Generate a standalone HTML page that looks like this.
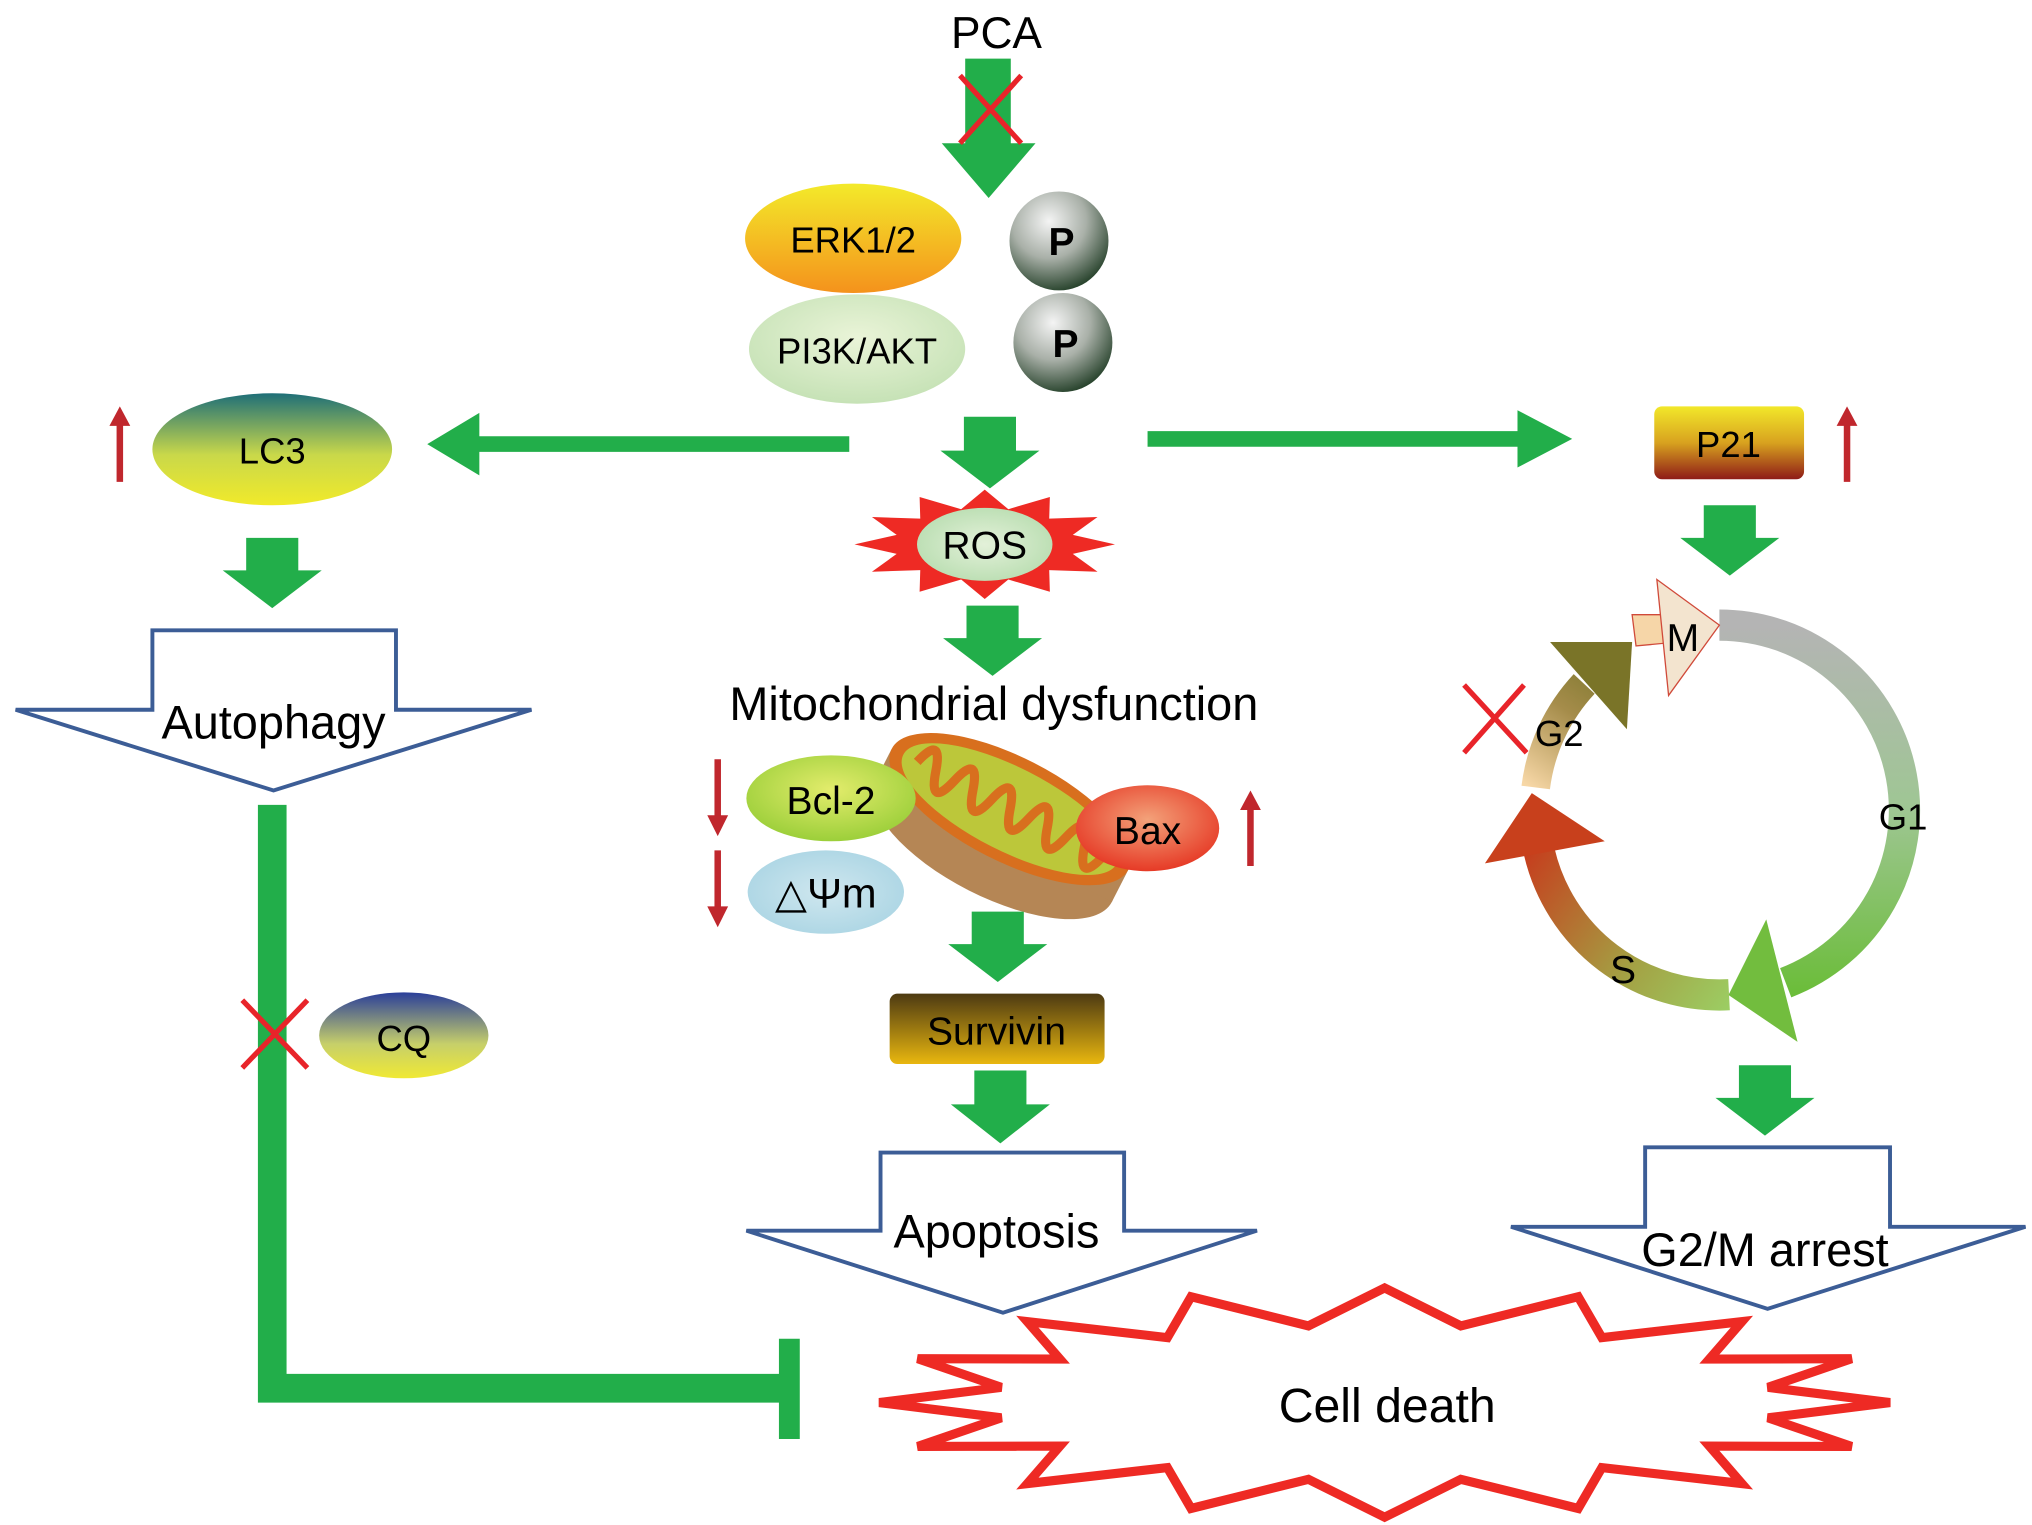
<!DOCTYPE html>
<html><head><meta charset="utf-8"><style>
html,body{margin:0;padding:0;background:#fff;}
svg{display:block;}
text{font-family:"Liberation Sans",sans-serif;}
.n{font-family:"Liberation Sans Narrow","Liberation Sans",sans-serif;}
</style></head><body>
<svg width="2032" height="1525" viewBox="0 0 1560 1171" preserveAspectRatio="none" xmlns="http://www.w3.org/2000/svg">
<defs>
<linearGradient id="erk" x1="0" y1="0" x2="0" y2="1"><stop offset="0" stop-color="#f3ea2a"/><stop offset="1" stop-color="#f4921c"/></linearGradient>
<radialGradient id="pi3k" cx="0.5" cy="0.4" r="0.6"><stop offset="0" stop-color="#eaf4d8"/><stop offset="1" stop-color="#c6e2b6"/></radialGradient>
<radialGradient id="pb" cx="0.4" cy="0.3" r="0.75"><stop offset="0" stop-color="#f4f4f4"/><stop offset="0.5" stop-color="#a9b0a8"/><stop offset="1" stop-color="#1d3a22"/></radialGradient>
<linearGradient id="lc3" x1="0" y1="0" x2="0" y2="1"><stop offset="0" stop-color="#1f6f78"/><stop offset="0.55" stop-color="#c9d84a"/><stop offset="1" stop-color="#f1ea2a"/></linearGradient>
<linearGradient id="p21" x1="0" y1="0" x2="0" y2="1"><stop offset="0" stop-color="#f2e82a"/><stop offset="0.5" stop-color="#d8a21f"/><stop offset="1" stop-color="#8e1b17"/></linearGradient>
<linearGradient id="surv" x1="0" y1="0" x2="0" y2="1"><stop offset="0" stop-color="#4d3a12"/><stop offset="1" stop-color="#e9b70f"/></linearGradient>
<linearGradient id="cq" x1="0" y1="0" x2="0" y2="1"><stop offset="0" stop-color="#2b3f9a"/><stop offset="0.6" stop-color="#c6cf6a"/><stop offset="1" stop-color="#f0e934"/></linearGradient>
<radialGradient id="bcl" cx="0.5" cy="0.4" r="0.6"><stop offset="0" stop-color="#e3ec6c"/><stop offset="1" stop-color="#9ccf3a"/></radialGradient>
<radialGradient id="psi" cx="0.5" cy="0.5" r="0.6"><stop offset="0" stop-color="#cfe7ef"/><stop offset="1" stop-color="#a9d4e3"/></radialGradient>
<radialGradient id="bax" cx="0.5" cy="0.4" r="0.6"><stop offset="0" stop-color="#f3a27a"/><stop offset="1" stop-color="#e63a26"/></radialGradient>
<radialGradient id="ros" cx="0.5" cy="0.5" r="0.6"><stop offset="0" stop-color="#e3f1d9"/><stop offset="1" stop-color="#b6dcae"/></radialGradient>
<linearGradient id="g1" gradientUnits="userSpaceOnUse" x1="0" y1="480" x2="0" y2="760"><stop offset="0" stop-color="#b4b4b4"/><stop offset="0.5" stop-color="#9fc694"/><stop offset="1" stop-color="#6cbd3b"/></linearGradient>
<linearGradient id="sg" gradientUnits="userSpaceOnUse" x1="1170" y1="650" x2="1330" y2="770"><stop offset="0" stop-color="#c73a1c"/><stop offset="0.6" stop-color="#a4a043"/><stop offset="1" stop-color="#9ccd63"/></linearGradient>
<linearGradient id="g2" gradientUnits="userSpaceOnUse" x1="1175" y1="605" x2="1250" y2="500"><stop offset="0" stop-color="#f7d7a6"/><stop offset="0.5" stop-color="#a58c4a"/><stop offset="1" stop-color="#6f7024"/></linearGradient>
</defs>

<!-- PCA -->
<text x="765" y="37" font-size="34" text-anchor="middle">PCA</text>
<polygon points="741,45 776,45 776,110 795,110 759,152 723,110 741,110" fill="#22ae4a"/>
<path d="M737,58 L784,110 M784,58 L737,110" stroke="#e8242a" stroke-width="4"/>

<!-- ERK / PI3K -->
<ellipse cx="655" cy="183" rx="83" ry="42" fill="url(#erk)"/>
<text x="655" y="194" font-size="28" text-anchor="middle" class="n">ERK1/2</text>
<circle cx="813" cy="185" r="38" fill="url(#pb)"/>
<text x="815" y="196" font-size="30" font-weight="bold" text-anchor="middle">P</text>
<ellipse cx="658" cy="268" rx="83" ry="42" fill="url(#pi3k)"/>
<text x="658" y="279" font-size="28" text-anchor="middle" class="n">PI3K/AKT</text>
<circle cx="816" cy="263" r="38" fill="url(#pb)"/>
<text x="818" y="274" font-size="30" font-weight="bold" text-anchor="middle">P</text>

<!-- central arrows -->
<polygon points="740,320 780,320 780,346 798,346 760,375 722,346 740,346" fill="#22ae4a"/>
<polygon points="652,335 368,335 368,317 328,341 368,365 368,347 652,347" fill="#22ae4a"/>
<polygon points="881,331 1165,331 1165,315 1207,337 1165,359 1165,343 881,343" fill="#22ae4a"/>

<!-- LC3 -->
<ellipse cx="209" cy="345" rx="92" ry="43" fill="url(#lc3)"/>
<text x="209" y="356" font-size="28" text-anchor="middle" class="n">LC3</text>
<line x1="92" y1="370" x2="92" y2="325" stroke="#c0272d" stroke-width="5"/>
<polygon points="84,327 100,327 92,312" fill="#c0272d"/>
<!-- P21 -->
<rect x="1270" y="312" width="115" height="56" rx="6" fill="url(#p21)"/>
<text x="1327" y="351" font-size="28" text-anchor="middle" class="n">P21</text>
<line x1="1418" y1="370" x2="1418" y2="325" stroke="#c0272d" stroke-width="5"/>
<polygon points="1410,327 1426,327 1418,312" fill="#c0272d"/>

<!-- ROS -->
<polygon points="856,418 823.6,425.3 842.6,439 805.5,437.8 806,454.4 774.1,445 756,460 737.9,445 706,454.4 706.5,437.8 669.4,439 688.4,425.3 656,418 688.4,410.7 669.4,397 706.5,398.2 706,381.6 737.9,391 756,376 774.1,391 806,381.6 805.5,398.2 842.6,397 823.6,410.7" fill="#ee2a24"/>
<ellipse cx="756" cy="418" rx="52" ry="28" fill="url(#ros)"/>
<text x="756" y="429" font-size="30" text-anchor="middle" class="n">ROS</text>

<polygon points="742,465 782,465 782,490 800,490 762,519 724,490 742,490" fill="#22ae4a"/>
<text x="763" y="553" font-size="36" text-anchor="middle">Mitochondrial dysfunction</text>

<!-- mitochondrion -->
<g transform="rotate(27 770 632)">
<ellipse cx="770" cy="648" rx="102" ry="42" fill="#b58655"/>
<rect x="668" y="620" width="204" height="28" fill="#b58655"/>
<ellipse cx="770" cy="620" rx="102" ry="40" fill="#d86f1e"/>
<ellipse cx="770" cy="620" rx="92" ry="32" fill="#bcc73a"/>
<path d="M690,620 q8,-28 16,0 t16,0 t16,0 t16,0 t16,0 t16,0 t16,0 t16,0 t16,0 t16,0" fill="none" stroke="#d86f1e" stroke-width="7"/>
</g>
<ellipse cx="638" cy="613" rx="65" ry="33" fill="url(#bcl)"/>
<text x="638" y="625" font-size="30" text-anchor="middle" class="n">Bcl-2</text>
<ellipse cx="634" cy="685" rx="60" ry="32" fill="url(#psi)"/>
<text x="634" y="697" font-size="32" text-anchor="middle" class="n">△Ψm</text>
<ellipse cx="881" cy="636" rx="55" ry="33" fill="url(#bax)"/>
<text x="881" y="648" font-size="30" text-anchor="middle" class="n">Bax</text>
<line x1="551" y1="583" x2="551" y2="628" stroke="#c0272d" stroke-width="5"/>
<polygon points="543,626 559,626 551,642" fill="#c0272d"/>
<line x1="551" y1="653" x2="551" y2="698" stroke="#c0272d" stroke-width="5"/>
<polygon points="543,696 559,696 551,712" fill="#c0272d"/>
<line x1="960" y1="665" x2="960" y2="620" stroke="#c0272d" stroke-width="5"/>
<polygon points="952,622 968,622 960,607" fill="#c0272d"/>

<polygon points="746,700 786,700 786,725 804,725 766,754 728,725 746,725" fill="#22ae4a"/>
<rect x="683" y="763" width="165" height="54" rx="6" fill="url(#surv)"/>
<text x="765" y="802" font-size="30" text-anchor="middle" class="n">Survivin</text>
<polygon points="748,822 788,822 788,848 806,848 768,878 730,848 748,848" fill="#22ae4a"/>

<!-- block arrows -->
<polygon points="676,885 863,885 863,945 965,945 770,1008 573,945 676,945" fill="#fff" stroke="#3c5d96" stroke-width="3"/>
<text x="765" y="958" font-size="36" text-anchor="middle">Apoptosis</text>
<polygon points="117,484 304,484 304,545 408,545 210,607 12,545 117,545" fill="#fff" stroke="#3c5d96" stroke-width="3"/>
<text x="210" y="567" font-size="36" text-anchor="middle">Autophagy</text>
<polygon points="1263,881 1451,881 1451,942 1555,942 1357,1005 1160,942 1263,942" fill="#fff" stroke="#3c5d96" stroke-width="3"/>
<text x="1355" y="972" font-size="36" text-anchor="middle">G2/M arrest</text>

<polygon points="189,413 229,413 229,438 247,438 209,467 171,438 189,438" fill="#22ae4a"/>
<polygon points="1308,388 1348,388 1348,413 1366,413 1328,442 1290,413 1308,413" fill="#22ae4a"/>
<polygon points="1335,818 1375,818 1375,843 1393,843 1355,872 1317,843 1335,843" fill="#22ae4a"/>

<!-- inhibition line -->
<polygon points="198,618 220,618 220,1055 598,1055 598,1028 614,1028 614,1105 598,1105 598,1077 198,1077" fill="#22ae4a"/>
<path d="M186,768 L236,820 M236,768 L186,820" stroke="#e8242a" stroke-width="4"/>
<ellipse cx="310" cy="795" rx="65" ry="33" fill="url(#cq)"/>
<text x="310" y="807" font-size="28" text-anchor="middle" class="n">CQ</text>

<!-- cell death -->
<polygon points="1451,1077 1357.3,1088.7 1421.5,1110.7 1312.3,1110.4 1337.3,1139.2 1229.8,1126.9 1211.6,1158.3 1121.5,1135.9 1063,1165 1004.5,1135.9 914.4,1158.3 896.2,1126.9 788.7,1139.2 813.7,1110.4 704.5,1110.7 768.7,1088.7 675,1077 768.7,1065.3 704.5,1043.3 813.7,1043.6 788.7,1014.8 896.2,1027.1 914.4,995.7 1004.5,1018.1 1063,989 1121.5,1018.1 1211.6,995.7 1229.8,1027.1 1337.3,1014.8 1312.3,1043.6 1421.5,1043.3 1357.3,1065.3" fill="#fff" stroke="#ee2a24" stroke-width="7" stroke-linejoin="miter"/>
<text x="1065" y="1092" font-size="37" text-anchor="middle">Cell death</text>

<!-- cell cycle -->
<path d="M1320,480 A142 142 0 0 1 1370.9,754.6" fill="none" stroke="url(#g1)" stroke-width="24"/>
<polygon points="1356,706 1380,800 1327,764" fill="#72bd3e"/>
<path d="M1327.4,763.8 A142 142 0 0 1 1181.7,654" fill="none" stroke="url(#sg)" stroke-width="24"/>
<polygon points="1140,663 1232,646 1176,609" fill="#c8401c"/>
<path d="M1179,604.7 A142 142 0 0 1 1216.2,525.2" fill="none" stroke="url(#g2)" stroke-width="22"/>
<polygon points="1190,493 1249,560 1253,493" fill="#7a7428"/>
<polygon points="1253,472 1277,472 1277,494 1256,496" fill="#f6d6a8" stroke="#d04a3a" stroke-width="1"/>
<polygon points="1272,445 1320,480 1281,534" fill="#f3e4cf" stroke="#d04a3a" stroke-width="1"/>
<text x="1292" y="500" font-size="30" text-anchor="middle" class="n">M</text>
<path d="M1124,526 L1172,578 M1170,526 L1124,578" stroke="#e8242a" stroke-width="4"/>
<text x="1197" y="573" font-size="28" text-anchor="middle" class="n">G2</text>
<text x="1461" y="637" font-size="28" text-anchor="middle" class="n">G1</text>
<text x="1246" y="755" font-size="30" text-anchor="middle" class="n">S</text>
</svg>
</body></html>
